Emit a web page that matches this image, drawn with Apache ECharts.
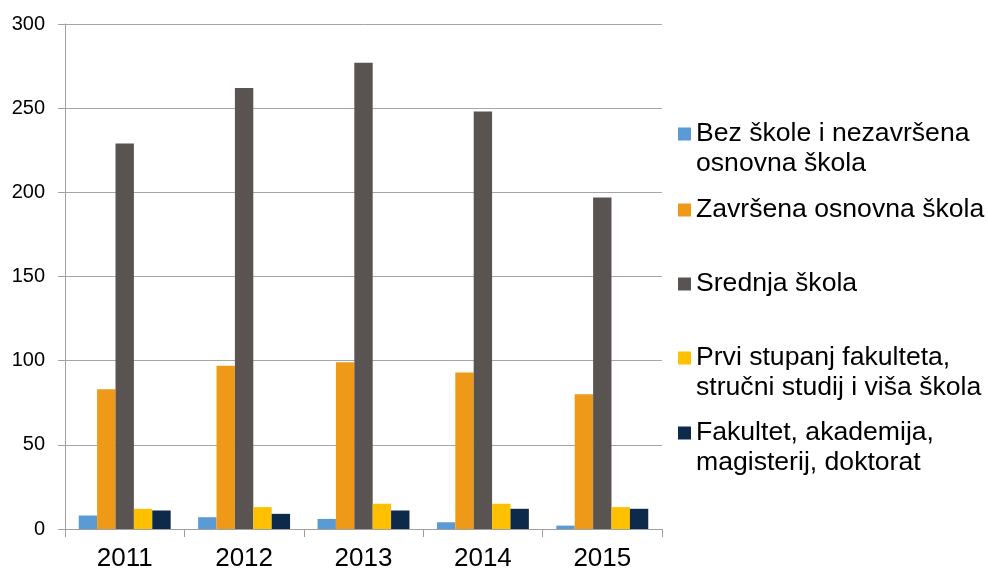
<!DOCTYPE html>
<html>
<head>
<meta charset="utf-8">
<script src="https://cdn.jsdelivr.net/npm/echarts@6/dist/echarts.min.js"></script>
<style>html,body{margin:0;padding:0;background:#fff}#c{width:988px;height:572px}</style>
</head>
<body>
<div id="c"></div>
<script>
const years = ['2011', '2012', '2013', '2014', '2015'];
const seriesNames = [
  'Bez škole i nezavršena osnovna škola',
  'Završena osnovna škola',
  'Srednja škola',
  'Prvi stupanj fakulteta, stručni studij i viša škola',
  'Fakultet, akademija, magisterij, doktorat'
];
const legendLines = [
  'Bez škole i nezavršena\nosnovna škola',
  'Završena osnovna škola',
  'Srednja škola',
  'Prvi stupanj fakulteta,\nstručni studij i viša škola',
  'Fakultet, akademija,\nmagisterij, doktorat'
];
const bezSkole = [8, 7, 6, 4, 2];
const osnovna = [83, 97, 99, 93, 80];
const srednja = [229, 262, 277, 248, 197];
const prviStupanj = [12, 13, 15, 15, 13];
const fakultet = [11, 9, 11, 12, 12];
const yTicks = [0, 50, 100, 150, 200, 250, 300];

const colors = ['#5B9BD5', '#EE9A18', '#595452', '#FFC000', '#0E2A4A'];
const allData = [bezSkole, osnovna, srednja, prviStupanj, fakultet];
const legendCenters = [134, 210, 284, 358, 433];

const chart = echarts.init(document.getElementById('c'), null, {renderer: 'canvas'});
const FONT = 'Liberation Sans, Arial, sans-serif';
const LH = 30;
const SQ = 13;

const legends = seriesNames.map((n, i) => {
  const multi = legendLines[i].indexOf('\n') >= 0;
  const h = multi ? SQ + LH : SQ;
  return {
    data: [n],
    left: 678,
    top: legendCenters[i] - LH / 2,
    padding: 0,
    itemWidth: SQ,
    itemHeight: h,
    icon: multi ? 'path://M0,0H13V13H0Z M0,' + (h - 0.01) + 'H0.01V' + h + 'H0Z' : 'rect',
    selectedMode: false,
    formatter: () => legendLines[i],
    textStyle: {
      fontFamily: FONT,
      fontSize: 26.6,
      color: '#000',
      lineHeight: LH
    }
  };
});

chart.setOption({
  animation: false,
  color: colors,
  textStyle: {fontFamily: FONT},
  grid: {left: 65, right: 326, top: 24, bottom: 41, containLabel: false},
  legend: legends,
  xAxis: {
    type: 'category',
    data: years,
    axisLine: {lineStyle: {color: '#A0A0A0', width: 1}},
    axisTick: {show: true, length: 8, lineStyle: {color: '#A0A0A0'}},
    axisLabel: {fontSize: 26, color: '#000', margin: 17, fontFamily: FONT}
  },
  yAxis: {
    type: 'value',
    min: 0,
    max: 300,
    interval: 50,
    axisLine: {show: true, lineStyle: {color: '#A0A0A0', width: 1}},
    axisTick: {show: true, length: 7, lineStyle: {color: '#A0A0A0'}},
    splitLine: {lineStyle: {color: '#A6A6A6', width: 1}},
    axisLabel: {fontSize: 20, color: '#000', margin: 20, fontFamily: FONT,
      formatter: v => yTicks.indexOf(v) >= 0 ? String(v) : ''}
  },
  series: seriesNames.map((n, i) => ({
    name: n,
    type: 'bar',
    data: allData[i],
    barGap: '0%',
    barCategoryGap: '23%',
    itemStyle: {color: colors[i]}
  }))
});
</script>
</body>
</html>
